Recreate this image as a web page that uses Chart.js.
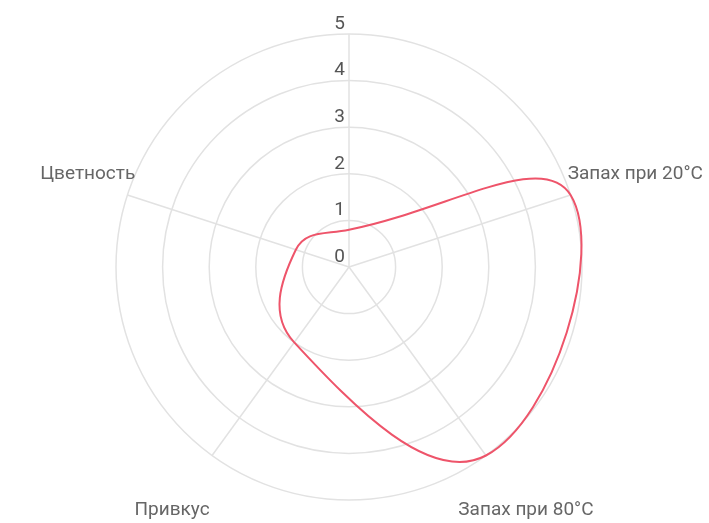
<!DOCTYPE html>
<html lang="ru">
<head>
<meta charset="utf-8">
<title>Профиль</title>
<script src="https://cdn.jsdelivr.net/npm/chart.js@4/dist/chart.umd.min.js"></script>
<style>
  html, body { margin: 0; padding: 0; background: #fff; }
  #wrap { width: 709px; height: 523px; position: relative; }
</style>
</head>
<body>
<div id="wrap"><canvas id="c" width="709" height="523"></canvas></div>
<script>
// Axes of the profile (the top axis carries no caption)
const categories = ['', 'Запах при 20°C', 'Запах при 80°C', 'Привкус', 'Цветность'];
// Scores per axis
const scores = [0.8, 5, 5, 2, 1.2];
// Scale ring values
const tickValues = [0, 1, 2, 3, 4, 5];

const labelFont = '19px Roboto, "Liberation Sans", Arial, sans-serif';

// Draws the ring values beside the vertical axis and the axis captions
const radarText = {
  id: 'radarText',
  afterDraw(chart) {
    const r = chart.scales.r;
    const ctx = chart.ctx;
    // horizontal nudge per caption, in px
    const captionShift = [0, 0, 0, 0, 25];
    ctx.save();
    ctx.font = labelFont;
    ctx.textBaseline = 'middle';

    ctx.fillStyle = '#555';
    ctx.textAlign = 'right';
    tickValues.forEach(v => {
      const d = r.getDistanceFromCenterForValue(v);
      ctx.fillText(String(v), r.xCenter - 4, r.yCenter - d - 10);
    });

    ctx.fillStyle = '#666';
    ctx.textAlign = 'center';
    categories.forEach((name, i) => {
      if (!name) return;
      const p = r.getPointPosition(i, r.drawingArea + 68);
      ctx.fillText(name, p.x + captionShift[i], p.y);
    });
    ctx.restore();
  }
};

new Chart(document.getElementById('c'), {
  type: 'radar',
  data: {
    labels: categories,
    datasets: [{
      data: scores,
      borderColor: 'rgb(238, 84, 106)',
      borderWidth: 2,
      backgroundColor: 'rgba(0,0,0,0)',
      fill: false,
      tension: 0.45,
      pointRadius: 0,
      pointHoverRadius: 0
    }]
  },
  options: {
    responsive: false,
    animation: false,
    layout: { padding: { top: 34, bottom: 23, left: 0, right: 11 } },
    plugins: {
      legend: { display: false },
      tooltip: { enabled: false }
    },
    scales: {
      r: {
        min: 0,
        max: 5,
        ticks: { stepSize: 1, display: false },
        pointLabels: { display: false },
        grid: { circular: true, color: '#e2e2e2', lineWidth: 1.5 },
        angleLines: { color: '#e2e2e2', lineWidth: 1.5 }
      }
    }
  },
  plugins: [radarText]
});
</script>
</body>
</html>
